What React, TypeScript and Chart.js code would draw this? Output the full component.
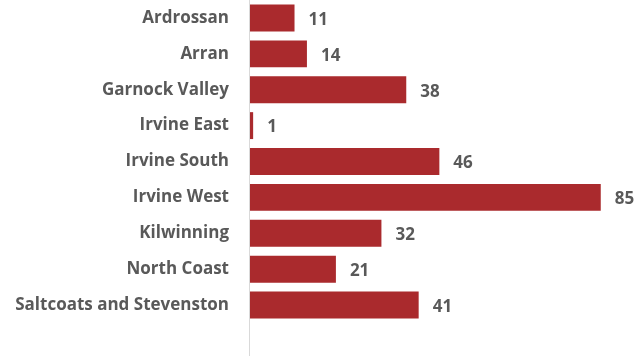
import React, { useEffect, useRef } from "react";
import { Chart, registerables } from "chart.js";

Chart.register(...registerables);

const categories = [
  "Ardrossan",
  "Arran",
  "Garnock Valley",
  "Irvine East",
  "Irvine South",
  "Irvine West",
  "Kilwinning",
  "North Coast",
  "Saltcoats and Stevenston",
];
const values = [11, 14, 38, 1, 46, 85, 32, 21, 41];

const FONT = "'Open Sans', Lato, sans-serif";
const TEXT = "#595959";

const labelPlugin = {
  id: "valueLabels",
  afterDatasetsDraw(chart: any) {
    const ctx = chart.ctx;
    const meta = chart.getDatasetMeta(0);
    ctx.save();
    ctx.fillStyle = TEXT;
    ctx.font = `bold 17px ${FONT}`;
    ctx.textAlign = "left";
    ctx.textBaseline = "middle";
    meta.data.forEach((bar: any, i: number) => {
      ctx.fillText(String(values[i]), bar.x + 14, bar.y + 2);
    });
    ctx.restore();
  },
};

const axisLinePlugin = {
  id: "axisLine",
  afterDraw(chart: any) {
    const ctx = chart.ctx;
    const x = chart.chartArea.left;
    ctx.save();
    ctx.strokeStyle = "#D9D9D9";
    ctx.lineWidth = 1;
    ctx.beginPath();
    ctx.moveTo(x + 0.5, 0);
    ctx.lineTo(x + 0.5, chart.height);
    ctx.stroke();
    ctx.restore();
  },
};

export default function App() {
  const ref = useRef<HTMLCanvasElement>(null);
  useEffect(() => {
    const chart = new Chart(ref.current!, {
      type: "bar",
      data: {
        labels: categories,
        datasets: [
          {
            data: values,
            backgroundColor: "#AA2A2D",
            borderWidth: 0,
            barPercentage: 0.75,
            categoryPercentage: 1,
          },
        ],
      },
      options: {
        indexAxis: "y",
        animation: false,
        responsive: true,
        maintainAspectRatio: false,
        layout: { padding: { top: 0, bottom: 33, left: 0, right: 0 } },
        plugins: { legend: { display: false }, tooltip: { enabled: false } },
        scales: {
          x: { display: false, min: 0, max: 94 },
          y: {
            grid: { display: false },
            border: { display: false },
            ticks: {
              color: TEXT,
              padding: 12,
              font: { family: FONT, size: 17, weight: "bold" },
            },
            afterFit(scale: any) {
              scale.width = 249;
              scale.paddingTop = 0;
              scale.paddingBottom = 0;
            },
          },
        },
      },
      plugins: [labelPlugin, axisLinePlugin],
    });
    return () => chart.destroy();
  }, []);
  return (
    <div style={{ position: "fixed", left: 0, top: 0, width: 638, height: 356, background: "#fff" }}>
      <canvas ref={ref} />
    </div>
  );
}
